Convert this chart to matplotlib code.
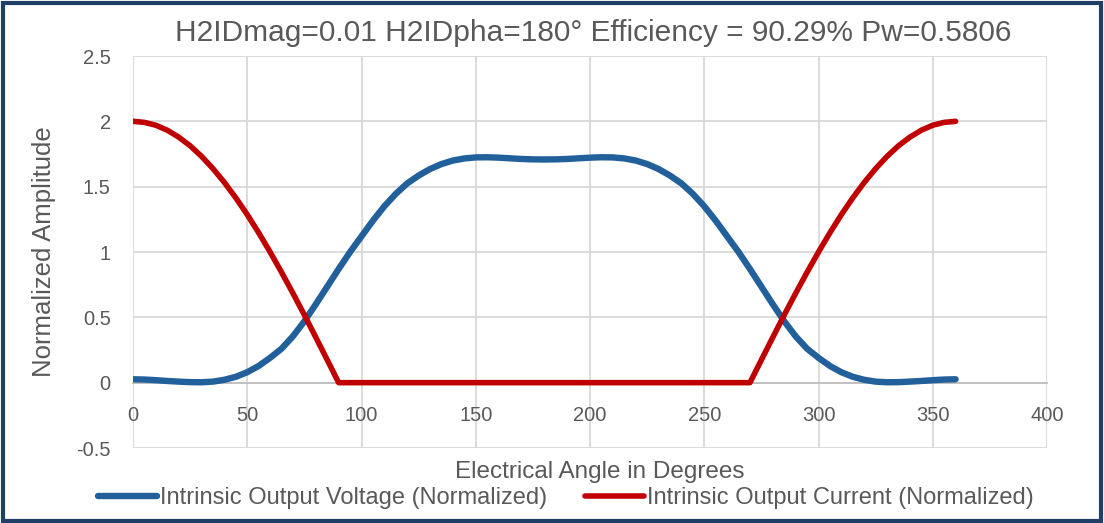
import matplotlib
matplotlib.use("Agg")
import matplotlib.pyplot as plt
from matplotlib.patches import Rectangle

# ---- data ----
angle = [0, 5, 10, 15, 20, 25, 30, 35, 40, 45, 50, 55, 60, 65, 70, 75, 80, 85, 90,
         95, 100, 105, 110, 115, 120, 125, 130, 135, 140, 145, 150, 155, 160, 165, 170, 175, 180,
         185, 190, 195, 200, 205, 210, 215, 220, 225, 230, 235, 240, 245, 250, 255, 260, 265, 270,
         275, 280, 285, 290, 295, 300, 305, 310, 315, 320, 325, 330, 335, 340, 345, 350, 355, 360]

voltage = [0.026, 0.024, 0.019, 0.013, 0.008, 0.004, 0.003, 0.008, 0.022, 0.045, 0.080, 0.128, 0.19,
           0.26, 0.355, 0.47, 0.60, 0.735, 0.87, 1.00, 1.12, 1.24, 1.35, 1.445, 1.525, 1.585, 1.635,
           1.673, 1.70, 1.716, 1.724, 1.725, 1.722, 1.717, 1.712, 1.709, 1.708,
           1.709, 1.712, 1.717, 1.722, 1.725, 1.724, 1.716, 1.70, 1.673, 1.635, 1.585, 1.525, 1.445,
           1.35, 1.24, 1.12, 1.00, 0.87, 0.735, 0.60, 0.47, 0.355, 0.26, 0.19, 0.128, 0.080,
           0.045, 0.022, 0.008, 0.003, 0.004, 0.008, 0.013, 0.019, 0.024, 0.026]

current = [2.0, 1.992, 1.970, 1.932, 1.879, 1.813, 1.732, 1.638, 1.532, 1.414, 1.286, 1.147, 1.0,
           0.845, 0.684, 0.518, 0.347, 0.174, 0.0,
           0, 0, 0, 0, 0, 0, 0, 0, 0, 0, 0, 0, 0, 0, 0, 0, 0, 0,
           0, 0, 0, 0, 0, 0, 0, 0, 0, 0, 0, 0, 0, 0, 0, 0, 0, 0.0,
           0.174, 0.347, 0.518, 0.684, 0.845, 1.0, 1.147, 1.286, 1.414, 1.532, 1.638, 1.732,
           1.813, 1.879, 1.932, 1.970, 1.992, 2.0]

x_ticks = [0, 50, 100, 150, 200, 250, 300, 350, 400]
y_ticks = [-0.5, 0, 0.5, 1, 1.5, 2, 2.5]
y_tick_labels = ["-0.5", "0", "0.5", "1", "1.5", "2", "2.5"]

title = "H2IDmag=0.01 H2IDpha=180° Efficiency = 90.29% Pw=0.5806"
series_names = ["Intrinsic Output Voltage (Normalized)", "Intrinsic Output Current (Normalized)"]

# ---- style ----
FONT = ["Liberation Sans", "DejaVu Sans"]
plt.rcParams["font.family"] = FONT
TXT = "#595959"
BLUE = "#22609C"
RED = "#C00000"

fig = plt.figure(figsize=(11.04, 5.23), dpi=100)
ax = fig.add_axes([133 / 1104, 1 - 448 / 523, (1047 - 133) / 1104, (448 - 56) / 523])

ax.set_xlim(0, 400)
ax.set_ylim(-0.5, 2.5)
ax.set_xticks(x_ticks)
ax.set_yticks(y_ticks)
ax.set_yticklabels(y_tick_labels)
ax.grid(True, color="#D9D9D9", linewidth=1.3)
ax.set_axisbelow(True)
for s in ["top", "right", "left"]:
    ax.spines[s].set_visible(False)
ax.spines["bottom"].set_position(("data", 0))
ax.spines["bottom"].set_color("#BFBFBF")
ax.spines["bottom"].set_linewidth(1.3)
ax.tick_params(axis="both", length=0, labelsize=14.5, labelcolor=TXT)
ax.tick_params(axis="x", pad=17)
ax.tick_params(axis="y", pad=16)

l1, = ax.plot(angle, voltage, color=BLUE, linewidth=4.6, solid_capstyle="round",
              solid_joinstyle="round", label=series_names[0], zorder=3)
l2, = ax.plot(angle, current, color=RED, linewidth=4.0, solid_capstyle="round",
              solid_joinstyle="round", label=series_names[1], zorder=3)

fig.text(593 / 1104, 1 - 33 / 523, title, ha="center", va="center", fontsize=21.5, color=TXT)
fig.text(600 / 1104, 1 - 472 / 523, "Electrical Angle in Degrees", ha="center", va="center",
         fontsize=17.5, color=TXT)
fig.text(44 / 1104, 1 - 252 / 523, "Normalized Amplitude", ha="center", va="center",
         rotation=90, fontsize=18.5, color=TXT)

leg = fig.legend(handles=[l1, l2], labels=series_names, loc="center",
                 bbox_to_anchor=(566 / 1104, 1 - 498 / 523), ncol=2, frameon=False,
                 fontsize=17, labelcolor=TXT, handlelength=2.5, handletextpad=0.13,
                 columnspacing=1.6)

fig.patches.append(Rectangle((0.0025, 0.004), 0.995, 0.99, transform=fig.transFigure,
                             fill=False, edgecolor="#1F3F66", linewidth=3))

fig.savefig("out.png", dpi=100)
